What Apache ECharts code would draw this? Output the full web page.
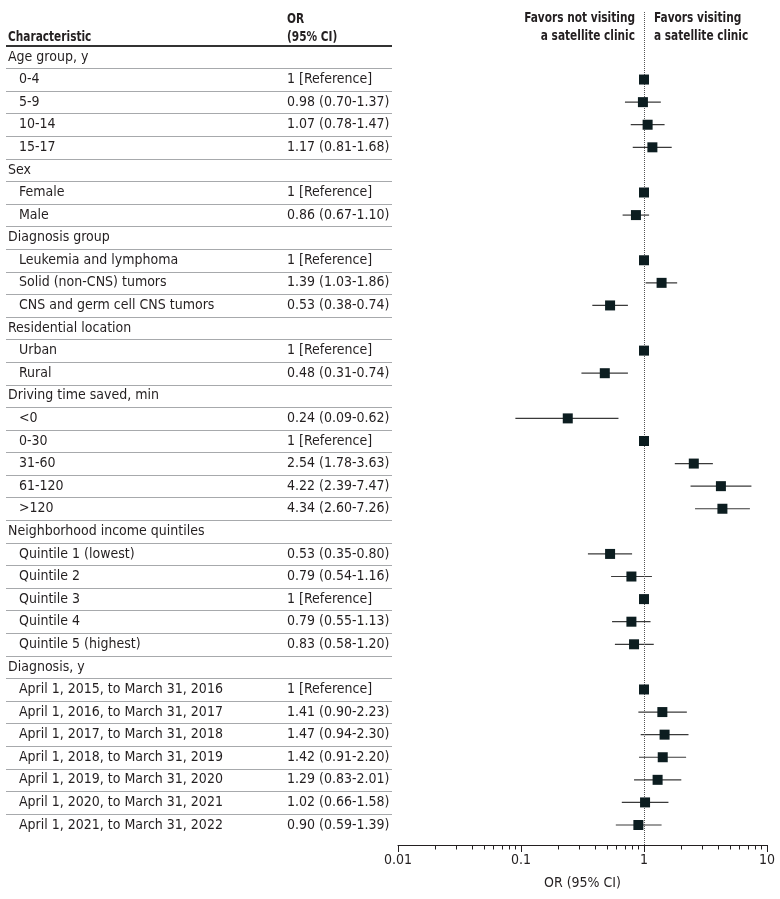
<!DOCTYPE html>
<html>
<head>
<meta charset="utf-8">
<title>Forest plot</title>
<script src="https://cdn.jsdelivr.net/npm/echarts@6/dist/echarts.min.js"></script>
<style>
  html, body { margin: 0; padding: 0; background: #fff; }
  #chart { width: 780px; height: 899px; }
</style>
</head>
<body>
<div id="chart"></div>
<script>
// rows of the table, top to bottom
var rowLabels = [
  'Age group, y', '0-4', '5-9', '10-14', '15-17',
  'Sex', 'Female', 'Male',
  'Diagnosis group', 'Leukemia and lymphoma', 'Solid (non-CNS) tumors', 'CNS and germ cell CNS tumors',
  'Residential location', 'Urban', 'Rural',
  'Driving time saved, min', '<0', '0-30', '31-60', '61-120', '>120',
  'Neighborhood income quintiles', 'Quintile 1 (lowest)', 'Quintile 2', 'Quintile 3', 'Quintile 4', 'Quintile 5 (highest)',
  'Diagnosis, y',
  'April 1, 2015, to March 31, 2016', 'April 1, 2016, to March 31, 2017', 'April 1, 2017, to March 31, 2018',
  'April 1, 2018, to March 31, 2019', 'April 1, 2019, to March 31, 2020', 'April 1, 2020, to March 31, 2021',
  'April 1, 2021, to March 31, 2022'
];
// 1 = group heading (no estimate)
var rowIsGroup = [1,0,0,0,0, 1,0,0, 1,0,0,0, 1,0,0, 1,0,0,0,0,0, 1,0,0,0,0,0, 1,0,0,0,0,0,0,0];
// 1 = reference category
var rowIsRef   = [0,1,0,0,0, 0,1,0, 0,1,0,0, 0,1,0, 0,0,1,0,0,0, 0,0,0,1,0,0, 0,1,0,0,0,0,0,0];
var orValues = [null,1,0.98,1.07,1.17, null,1,0.86, null,1,1.39,0.53, null,1,0.48,
  null,0.24,1,2.54,4.22,4.34, null,0.53,0.79,1,0.79,0.83, null,1,1.41,1.47,1.42,1.29,1.02,0.90];
var ciLow = [null,null,0.70,0.78,0.81, null,null,0.67, null,null,1.03,0.38, null,null,0.31,
  null,0.09,null,1.78,2.39,2.60, null,0.35,0.54,null,0.55,0.58, null,null,0.90,0.94,0.91,0.83,0.66,0.59];
var ciHigh = [null,null,1.37,1.47,1.68, null,null,1.10, null,null,1.86,0.74, null,null,0.74,
  null,0.62,null,3.63,7.47,7.26, null,0.80,1.16,null,1.13,1.20, null,null,2.23,2.30,2.20,2.01,1.58,1.39];
var majorTicks = [0.01, 0.1, 1, 10];
var minorTicks = [0.02,0.03,0.04,0.05,0.06,0.07,0.08,0.09,
  0.2,0.3,0.4,0.5,0.6,0.7,0.8,0.9,
  2,3,4,5,6,7,8,9];

var FONT = '"DejaVu Sans Condensed", "DejaVu Sans", sans-serif';
var INK = '#231f20';
var BOLD = 'bold 14px ' + FONT;

function orText(i) {
  if (rowIsGroup[i]) return '';
  if (rowIsRef[i]) return '1 [Reference]';
  return orValues[i].toFixed(2) + ' (' + ciLow[i].toFixed(2) + '-' + ciHigh[i].toFixed(2) + ')';
}

var tableData = rowLabels.map(function (l, i) { return [0, i]; });
var pointData = [];
var ciData = [];
orValues.forEach(function (v, i) {
  if (v != null) pointData.push([v, i]);
  if (ciLow[i] != null) ciData.push([i, ciLow[i], ciHigh[i]]);
});

// header text, condensed to match the narrow bold face of the original
function headText(x, y, text, align) {
  return {
    type: 'text', x: x, y: y, scaleX: 0.84,
    style: { text: text, font: BOLD, fill: INK, align: align, verticalAlign: 'middle' }
  };
}

var myChart = echarts.init(document.getElementById('chart'));
var option = {
  animation: false,
  grid: [
    { left: 398, right: 13, top: 12, bottom: 54 },
    { left: 0, width: 398, top: 12, bottom: 54 },
    { left: 398, right: 13, top: 12, bottom: 54 }
  ],
  xAxis: [
    {
      type: 'log', logBase: 10, gridIndex: 0, min: 0.01, max: 10,
      position: 'bottom',
      axisLine: { show: true, onZero: false, lineStyle: { color: INK, width: 1 } },
      axisTick: { show: true, length: 7, lineStyle: { color: INK }, customValues: majorTicks },
      axisLabel: {
        show: true, margin: 8, color: INK, fontSize: 14, fontFamily: FONT,
        customValues: majorTicks,
        formatter: function (v) { return String(v); }
      },
      splitLine: { show: false },
      name: 'OR (95% CI)', nameLocation: 'middle', nameGap: 31,
      nameTextStyle: { color: INK, fontSize: 14, fontFamily: FONT }
    },
    { type: 'value', gridIndex: 1, min: 0, max: 398, show: false },
    {
      // minor ticks, on a twin grid
      type: 'log', logBase: 10, gridIndex: 2, min: 0.01, max: 10,
      position: 'bottom',
      axisLine: { show: false, onZero: false },
      axisTick: { show: true, length: 4.5, lineStyle: { color: INK }, customValues: minorTicks },
      axisLabel: { show: false },
      splitLine: { show: false }
    }
  ],
  yAxis: [
    { type: 'value', gridIndex: 0, inverse: true, min: -1.99, max: 34.885, show: false },
    { type: 'value', gridIndex: 1, inverse: true, min: -1.99, max: 34.885, show: false },
    { type: 'value', gridIndex: 2, min: 0, max: 1, show: false }
  ],
  graphic: [
    headText(8, 37, 'Characteristic', 'left'),
    headText(287, 19, 'OR', 'left'),
    headText(287, 37, '(95% CI)', 'left'),
    { type: 'line', shape: { x1: 6, y1: 46, x2: 392, y2: 46 }, style: { stroke: '#333', lineWidth: 2 } },
    headText(635, 18, 'Favors not visiting', 'right'),
    headText(635, 36, 'a satellite clinic', 'right'),
    headText(654, 18, 'Favors visiting', 'left'),
    headText(654, 36, 'a satellite clinic', 'left')
  ],
  series: [
    {
      // table text and row separators
      type: 'custom',
      xAxisIndex: 1, yAxisIndex: 1,
      data: tableData,
      silent: true,
      renderItem: function (params, api) {
        var i = params.dataIndex;
        var y = api.coord([0, i])[1];
        var half = api.size([0, 1])[1] / 2;
        var children = [
          {
            type: 'text',
            style: {
              text: rowLabels[i], x: rowIsGroup[i] ? 8 : 19, y: y,
              verticalAlign: 'middle', font: '14px ' + FONT, fill: INK
            }
          },
          {
            type: 'text',
            style: {
              text: orText(i), x: 287, y: y,
              verticalAlign: 'middle', font: '14px ' + FONT, fill: INK
            }
          }
        ];
        if (i < rowLabels.length - 1) {
          var ly = Math.round(y + half) + 0.5;
          children.push({
            type: 'line',
            shape: { x1: 6, y1: ly, x2: 392, y2: ly },
            style: { stroke: '#a7a9ac', lineWidth: 1 }
          });
        }
        return { type: 'group', children: children };
      }
    },
    {
      // confidence intervals
      type: 'custom',
      xAxisIndex: 0, yAxisIndex: 0,
      data: ciData,
      encode: { x: [1, 2], y: 0 },
      silent: true,
      renderItem: function (params, api) {
        var a = api.coord([api.value(1), api.value(0)]);
        var b = api.coord([api.value(2), api.value(0)]);
        return {
          type: 'line',
          shape: { x1: a[0], y1: a[1], x2: b[0], y2: b[1] },
          style: { stroke: '#3a3a3a', lineWidth: 1.2 }
        };
      }
    },
    {
      type: 'scatter',
      xAxisIndex: 0, yAxisIndex: 0,
      data: pointData,
      symbol: 'rect',
      symbolSize: 10,
      itemStyle: { color: '#0c1d20', opacity: 1 },
      z: 5,
      markLine: {
        silent: true,
        symbol: 'none',
        label: { show: false },
        lineStyle: { color: '#555', type: 'dotted', width: 1 },
        data: [{ xAxis: 1 }]
      }
    }
  ]
};
myChart.setOption(option);
</script>
</body>
</html>
